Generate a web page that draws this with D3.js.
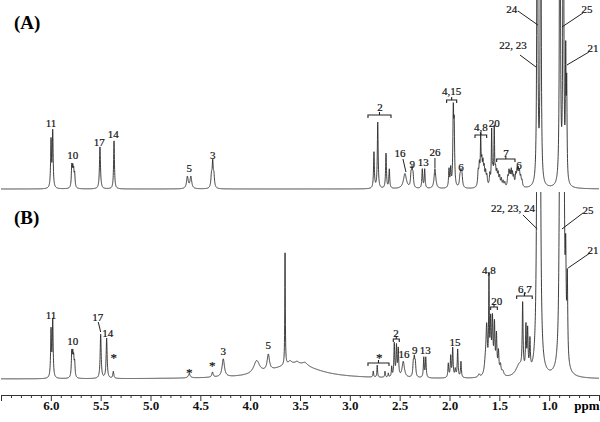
<!DOCTYPE html>
<html>
<head>
<meta charset="utf-8">
<script src="https://cdn.jsdelivr.net/npm/d3@7"></script>
<style>
  body { margin: 0; background: #fff; }
  svg { display: block; }
  .lbl { font-family: "Liberation Serif", "DejaVu Serif", serif; font-size: 11px; fill: #111; stroke: #111; stroke-width: 0.2px; }
  .axis text { font-family: "Liberation Serif", serif; font-size: 13px; font-weight: bold; fill: #111; }
  .axis path, .axis line { stroke: #333; }
</style>
</head>
<body>
<div id="chart"></div>
<script>
// 1H NMR, two spectra stacked on one ppm axis
// peaks: [ppm, height, half width], heights in arbitrary units (panel = 190)

const peaksA = [
  [5.998, 47, 0.005], [5.981, 56, 0.005],                       // 11
  [5.790, 21, 0.005], [5.780, 17, 0.005], [5.771, 15, 0.005], [5.761, 13, 0.005], // 10
  [5.507, 42, 0.006], [5.366, 48, 0.005],                       // 17, 14
  [4.630, 12, 0.010], [4.595, 12, 0.010],                       // 5
  [4.388, 12, 0.007], [4.376, 24, 0.006], [4.364, 12, 0.007],   // 3
  [2.758, 36, 0.005], [2.720, 66, 0.005], [2.637, 35, 0.005], [2.604, 19, 0.005], // 2
  [2.447, 15, 0.018],                                           // 16
  [2.386, 12, 0.006], [2.376, 16, 0.006], [2.366, 12, 0.006],   // 9
  [2.273, 19, 0.005], [2.249, 19, 0.005],                       // 13
  [2.146, 20, 0.010],                                           // 26
  [2.005, 18, 0.005], [1.988, 18, 0.005], [1.962, 72, 0.005], [1.953, 55, 0.005], // 4,15
  [1.895, 9, 0.007], [1.885, 13, 0.007], [1.875, 11, 0.007],    // 6
  [1.712, 14, 0.006], [1.700, 20, 0.006], [1.687, 44, 0.004], [1.676, 22, 0.006],
  [1.664, 20, 0.006], [1.652, 16, 0.006], [1.638, 13, 0.006], [1.625, 10, 0.006], // 4,8
  [1.595, 12, 0.006], [1.577, 54, 0.004], [1.565, 14, 0.006], [1.551, 56, 0.004],
  [1.538, 15, 0.006], [1.525, 13, 0.006], [1.512, 12, 0.006], [1.497, 10, 0.006],
  [1.480, 8, 0.006], [1.462, 6, 0.006], [1.445, 5, 0.006],      // 20
  [1.415, 10, 0.006], [1.403, 14, 0.005], [1.392, 12, 0.005], [1.380, 15, 0.005],
  [1.368, 12, 0.005], [1.355, 10, 0.006],                       // 7
  [1.335, 12, 0.006], [1.322, 14, 0.006], [1.310, 15, 0.006], [1.298, 13, 0.006],
  [1.285, 9, 0.006], [1.272, 6, 0.006],                         // 6
  [1.119, 600, 0.004], [1.085, 550, 0.004],                     // 24 / 22,23
  [0.892, 600, 0.004], [0.858, 550, 0.004], [0.834, 118, 0.004], [0.824, 90, 0.004] // 25 / 21
];

const peaksB = [
  [5.998, 47, 0.005], [5.981, 57, 0.005],                       // 11
  [5.790, 24, 0.005], [5.780, 20, 0.005], [5.771, 17, 0.005], [5.761, 14, 0.005], // 10
  [5.500, 44, 0.006], [5.440, 40, 0.006], [5.373, 7, 0.006],    // 17, 14, *
  [4.611, 4, 0.012], [4.378, 5, 0.008], [4.270, 18, 0.014],     // *, *, 3
  [3.935, 13, 0.035], [3.818, 16, 0.014], [3.650, 112, 0.003],  // hump, 5, sharp line
  [3.600, 3, 0.02], [3.530, 2, 0.02], [3.450, 3, 0.03],
  [3.55, 15, 0.28],                                             // broad background
  [2.765, 6, 0.004], [2.725, 12, 0.004], [2.647, 6, 0.004], [2.614, 4, 0.004], [2.580, 10, 0.004], // *
  [2.554, 33, 0.005], [2.532, 30, 0.005], [2.514, 27, 0.005],   // 2
  [2.464, 16, 0.014],                                           // 16
  [2.363, 13, 0.006], [2.353, 16, 0.006], [2.343, 13, 0.006],   // 9
  [2.258, 20, 0.005], [2.238, 20, 0.005],                       // 13
  [2.012, 14, 0.005], [1.988, 21, 0.005], [1.968, 29, 0.005], [1.942, 8, 0.006],
  [1.918, 28, 0.005], [1.885, 16, 0.005],                       // 15
  [1.704, 3, 0.01],
  [1.640, 12, 0.012], [1.627, 45, 0.008], [1.604, 92, 0.004],   // 4,8
  [1.587, 50, 0.006], [1.569, 52, 0.006], [1.549, 48, 0.006], [1.529, 38, 0.006],
  [1.509, 22, 0.006], [1.489, 10, 0.008], [1.465, 5, 0.012],    // 20
  [1.300, 12, 0.04], [1.266, 66, 0.005], [1.233, 44, 0.005], [1.216, 40, 0.005], [1.193, 30, 0.005], // 6,7
  [1.115, 800, 0.006], [1.095, 700, 0.006],                     // 22,23,24
  [0.898, 40, 0.006], [0.885, 800, 0.006], [0.858, 700, 0.006], [0.834, 85, 0.005], [0.818, 80, 0.005] // 25 / 21
];

// [text, ppm, height]
const labelsA = [
  ["11", 5.998, 66], ["10", 5.78, 34], ["17", 5.514, 47], ["14", 5.373, 55], ["5", 4.611, 21], ["3", 4.376, 34],
  ["2", 2.697, 82], ["16", 2.497, 36], ["9", 2.373, 25], ["13", 2.263, 27], ["26", 2.146, 37],
  ["4,15", 1.978, 98], ["6", 1.885, 22], ["4,8", 1.684, 62], ["20", 1.551, 66], ["7", 1.433, 36], ["6", 1.303, 24],
  ["24", 1.376, 180], ["22, 23", 1.363, 144], ["25", 0.621, 180], ["21", 0.560, 141]
];
const labelsB = [
  ["11", 5.998, 64], ["10", 5.78, 38], ["17", 5.53, 62], ["14", 5.429, 46], ["*", 5.369, 22], ["*", 4.611, 7],
  ["*", 4.38, 14], ["3", 4.27, 28], ["5", 3.818, 34], ["*", 2.704, 22], ["2", 2.537, 46], ["16", 2.457, 25],
  ["9", 2.349, 29], ["13", 2.243, 29], ["15", 1.945, 37], ["4,8", 1.604, 109], ["20", 1.527, 78],
  ["6,7", 1.243, 90], ["22, 23, 24", 1.363, 171], ["25", 0.611, 169], ["21", 0.560, 129]
];
// [ppm from, ppm to, height]
const bracketsA = [[2.818, 2.587, 74], [2.029, 1.928, 89], [1.744, 1.627, 54], [1.527, 1.343, 30]];
const bracketsB = [[2.818, 2.607, 16], [2.564, 2.504, 40], [1.587, 1.520, 72], [1.326, 1.170, 83]];
// [ppm1, h1, ppm2, h2]
const leadersA = [[2.467, 30, 2.437, 17], [2.146, 31, 2.146, 21], [1.313, 178, 1.113, 164],
  [1.293, 134, 1.132, 122], [0.661, 176, 0.872, 162], [0.601, 137, 0.822, 124]];
const leadersB = [[5.524, 57, 5.50, 47], [1.263, 164, 1.12, 150], [0.661, 166, 0.872, 150], [0.591, 126, 0.81, 111]];

const majorTicks = [6.0, 5.5, 5.0, 4.5, 4.0, 3.5, 3.0, 2.5, 2.0, 1.5, 1.0];

const width = 600, height = 422;
const x = d3.scaleLinear().domain([6.5, 0.5]).range([1, 599]);

const svg = d3.select("#chart").append("svg")
  .attr("width", width).attr("height", height);

// sum of lorentzian lines for each peak list
function spectrum(peaks) {
  const pts = [];
  const n = 6000;
  for (let i = 0; i <= n; i++) {
    const p = 6.5 - i * (6.0 / n);
    let s = 0;
    for (const [c, h, w] of peaks) {
      const d = (p - c) / w;
      s += h / (1 + d * d);
    }
    pts.push([p, Math.min(s, 260)]);
  }
  return pts;
}

function drawPanel(id, peaks, labels, brackets, leaders, y, clipTop, title, titleY) {
  svg.append("clipPath").attr("id", "clip" + id)
    .append("rect").attr("x", 0).attr("y", clipTop).attr("width", width).attr("height", y(0) + 5 - clipTop);

  const line = d3.line().x(d => x(d[0])).y(d => y(d[1]));
  svg.append("path")
    .datum(spectrum(peaks))
    .attr("clip-path", `url(#clip${id})`)
    .attr("fill", "none")
    .attr("stroke", "#2a2a2a")
    .attr("stroke-width", 0.9)
    .attr("d", line);

  const g = svg.append("g");
  g.selectAll("line.leader").data(leaders).enter().append("line")
    .attr("x1", d => x(d[0])).attr("y1", d => y(d[1]))
    .attr("x2", d => x(d[2])).attr("y2", d => y(d[3]))
    .attr("stroke", "#222").attr("stroke-width", 1);

  g.selectAll("path.br").data(brackets).enter().append("path")
    .attr("fill", "none").attr("stroke", "#222").attr("stroke-width", 1.1)
    .attr("d", d => {
      const x1 = x(d[0]), x2 = x(d[1]), yy = y(d[2]), xm = (x1 + x2) / 2;
      return `M${x1},${yy + 3}V${yy}H${x2}V${yy + 3}M${xm},${yy}V${yy - 3}`;
    });

  g.selectAll("text.lbl").data(labels).enter().append("text")
    .attr("class", "lbl")
    .attr("x", d => x(d[1])).attr("y", d => y(d[2]))
    .attr("text-anchor", "middle")
    .attr("dominant-baseline", "central")
    .style("font-size", d => d[0] === "*" ? "13px" : null)
    .text(d => d[0]);

  svg.append("text")
    .attr("x", 14).attr("y", titleY)
    .style("font-family", "'Liberation Serif', serif")
    .style("font-size", "19px").style("font-weight", "bold")
    .text(title);
}

const yA = d3.scaleLinear().domain([0, 190]).range([189, -1]);
const yB = d3.scaleLinear().domain([0, 190]).range([379, 189]);

drawPanel("A", peaksA, labelsA, bracketsA, leadersA, yA, 0, "(A)", 29);
drawPanel("B", peaksB, labelsB, bracketsB, leadersB, yB, 192, "(B)", 224);

// ppm axis
const axisY = 395;
svg.append("g").attr("class", "axis minor")
  .attr("transform", `translate(0,${axisY})`)
  .call(d3.axisBottom(x).tickValues(x.ticks(60).filter(t => !majorTicks.some(m => Math.abs(m - t) < 1e-6)))
    .tickSize(3).tickSizeOuter(6).tickFormat(""));
svg.append("g").attr("class", "axis")
  .attr("transform", `translate(0,${axisY})`)
  .call(d3.axisBottom(x).tickValues(majorTicks).tickSize(6).tickSizeOuter(6).tickPadding(0).tickFormat(d3.format(".1f")))
  .call(g => g.select(".domain").remove());

svg.append("text")
  .attr("x", 587).attr("y", 410)
  .attr("text-anchor", "middle")
  .style("font-family", "'Liberation Serif', serif")
  .style("font-size", "13px").style("font-weight", "bold")
  .text("ppm");
</script>
</body>
</html>
